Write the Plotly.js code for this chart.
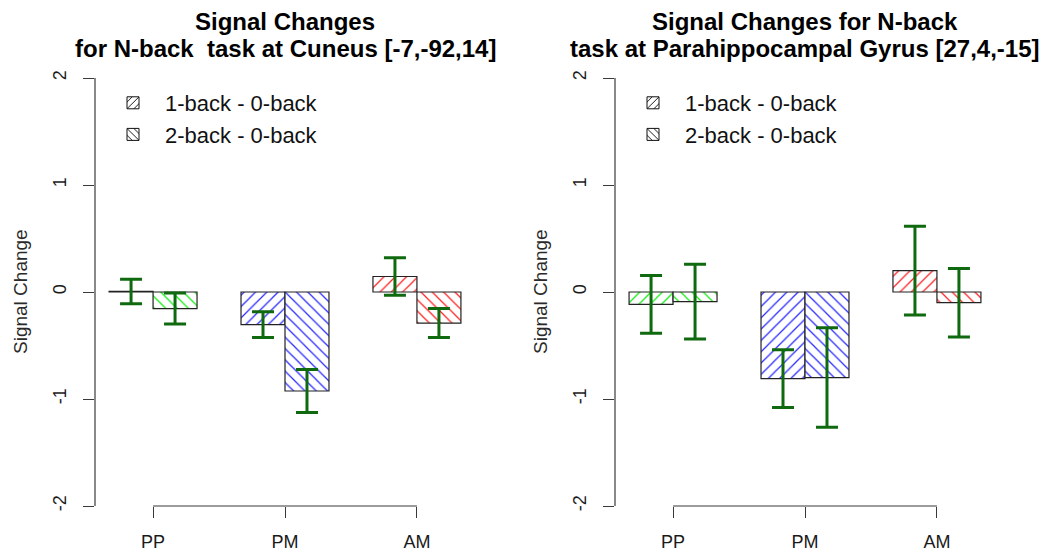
<!DOCTYPE html>
<html>
<head>
<meta charset="utf-8">
<script src="https://cdn.plot.ly/plotly-3.0.1.min.js"></script>
<style>
  html, body { margin: 0; padding: 0; background: #ffffff; }
  #chart { width: 1043px; height: 557px; }
</style>
</head>
<body>
<div id="chart"></div>
<script>
// Regions of interest along the x axis
const regions = ['PP', 'PM', 'AM'];

// Cuneus [-7,-92,14]: mean signal change and error half-widths
const cuneusOneBack = [0.005, -0.305, 0.145];
const cuneusOneBackErr = [0.115, 0.12, 0.175];
const cuneusTwoBack = [-0.155, -0.925, -0.29];
const cuneusTwoBackErr = [0.145, 0.2, 0.135];

// Parahippocampal Gyrus [27,4,-15]
const paraOneBack = [-0.115, -0.81, 0.2];
const paraOneBackErr = [0.27, 0.27, 0.415];
const paraTwoBack = [-0.09, -0.8, -0.1];
const paraTwoBackErr = [0.35, 0.465, 0.32];

// Contrast names and y-axis ticks
const contrastNames = ['1-back - 0-back', '2-back - 0-back'];
const yTickVals = [-2, -1, 0, 1, 2];
const yTickText = ['-2', '-1', '0', '1', '2'];

// Panel titles (two lines each)
const leftTitle = ['Signal Changes', 'for N-back\u00a0 task at Cuneus [-7,-92,14]'];
const rightTitle = ['Signal Changes for N-back', 'task at Parahippocampal Gyrus [27,4,-15]'];

const FONT = 'Liberation Sans, Arial, Helvetica, sans-serif';
const hatchColors = ['#11ee11', '#2a2aff', '#ff2222'];
const errColor = '#0f6a0f';
const axisColor = '#3a3a3a';

function barTrace(vals, errs, shape, xa, ya) {
  return {
    type: 'bar',
    x: regions,
    y: vals,
    xaxis: xa,
    yaxis: ya,
    showlegend: false,
    hoverinfo: 'skip',
    marker: {
      color: '#ffffff',
      line: { color: '#222222', width: 1.2 },
      pattern: {
        shape: shape,
        fgcolor: hatchColors,
        bgcolor: '#ffffff',
        fgopacity: 1,
        size: 8,
        solidity: 0.16
      }
    },
    error_y: {
      type: 'data',
      array: errs,
      visible: true,
      color: errColor,
      thickness: 3,
      width: 11
    }
  };
}

// Key entries: one empty-valued bar per contrast on a hidden axis pair,
// so they show in the legend without taking a slot in the bar groups
function legendTrace(name, shape, legendId) {
  return {
    type: 'bar',
    x: [regions[0]],
    y: [null],
    name: name,
    xaxis: 'x3',
    yaxis: 'y3',
    legend: legendId,
    showlegend: true,
    hoverinfo: 'skip',
    marker: {
      color: '#ffffff',
      line: { color: '#111111', width: 1 },
      pattern: {
        shape: shape,
        fgcolor: '#111111',
        bgcolor: '#ffffff',
        size: 6,
        solidity: 0.2
      }
    }
  };
}

const data = [
  barTrace(cuneusOneBack, cuneusOneBackErr, '/', 'x', 'y'),
  barTrace(cuneusTwoBack, cuneusTwoBackErr, '\\', 'x', 'y'),
  barTrace(paraOneBack, paraOneBackErr, '/', 'x2', 'y2'),
  barTrace(paraTwoBack, paraTwoBackErr, '\\', 'x2', 'y2'),
  legendTrace(contrastNames[0], '/', 'legend'),
  legendTrace(contrastNames[1], '\\', 'legend'),
  legendTrace(contrastNames[0], '/', 'legend2'),
  legendTrace(contrastNames[1], '\\', 'legend2')
];

const W = 1043, H = 557;
const yDomain = [(H - 506) / H, (H - 56.6) / H];

function xAxis(domain, anchor) {
  return {
    domain: domain,
    anchor: anchor,
    type: 'category',
    range: [-0.44, regions.length - 1 + 0.44],
    showgrid: false,
    zeroline: false,
    showline: false,
    ticks: 'outside',
    ticklen: 11,
    tickwidth: 1,
    tickcolor: axisColor,
    ticklabelstandoff: 8,
    tickfont: { family: FONT, size: 18, color: '#1a1a1a' },
    fixedrange: true
  };
}

function yAxis(anchor) {
  return {
    domain: yDomain,
    anchor: anchor,
    range: [yTickVals[0], 2.2],
    tickmode: 'array',
    tickvals: yTickVals,
    ticktext: yTickText,
    tickangle: -90,
    showgrid: false,
    zeroline: false,
    showline: false,
    ticks: 'outside',
    ticklen: 11,
    tickwidth: 1,
    tickcolor: axisColor,
    ticklabelstandoff: 10,
    tickfont: { family: FONT, size: 18, color: '#1a1a1a' },
    fixedrange: true
  };
}

// Axis lines span only the first to last tick, as in base-graphics axes
function axisLines(xa, ya) {
  return [
    {
      type: 'line', xref: xa + ' domain', yref: ya,
      x0: 0, x1: 0, y0: yTickVals[0], y1: yTickVals[yTickVals.length - 1],
      line: { color: axisColor, width: 1.2 }
    },
    {
      type: 'line', xref: xa, yref: ya + ' domain',
      x0: 0, x1: regions.length - 1, y0: 0, y1: 0,
      line: { color: axisColor, width: 1.2 }
    }
  ];
}

const yMid = (yTickVals[0] + yTickVals[yTickVals.length - 1]) / 2;

function titleAnnots(lines, xa) {
  const ys = [21, 48];
  return lines.map((t, i) => ({
    text: '<b>' + t + '</b>',
    xref: xa + ' domain', x: 0.5,
    yref: 'paper', y: (H - ys[i]) / H,
    xanchor: 'center', yanchor: 'middle',
    showarrow: false,
    font: { family: FONT, size: 24, color: '#000000' }
  }));
}

function yLabel(xa, ya) {
  return {
    text: 'Signal Change',
    xref: xa + ' domain', x: 0, xshift: -75,
    yref: ya, y: yMid,
    xanchor: 'center', yanchor: 'middle',
    textangle: -90,
    showarrow: false,
    font: { family: FONT, size: 19, color: '#2a2a2a' }
  };
}

function legendBox(xPx) {
  return {
    x: xPx / W, y: (H - 82) / H,
    xanchor: 'left', yanchor: 'top',
    bgcolor: 'rgba(0,0,0,0)',
    borderwidth: 0,
    itemwidth: 54,
    tracegroupgap: 0,
    font: { family: FONT, size: 22, color: '#111111' }
  };
}

const layout = {
  width: W,
  height: H,
  margin: { l: 0, r: 0, t: 0, b: 0 },
  paper_bgcolor: '#ffffff',
  plot_bgcolor: '#ffffff',
  barmode: 'group',
  bargap: 1 / 3,
  bargroupgap: 0,
  xaxis: xAxis([95 / W, 475 / W], 'y'),
  yaxis: yAxis('x'),
  xaxis2: xAxis([615 / W, 995 / W], 'y2'),
  yaxis2: yAxis('x2'),
  xaxis3: { domain: [0, 0.01], anchor: 'y3', visible: false, fixedrange: true },
  yaxis3: { domain: [0, 0.01], anchor: 'x3', visible: false, fixedrange: true },
  legend: legendBox(101),
  legend2: legendBox(621),
  shapes: axisLines('x', 'y').concat(axisLines('x2', 'y2')),
  annotations: titleAnnots(leftTitle, 'x')
    .concat(titleAnnots(rightTitle, 'x2'))
    .concat([yLabel('x', 'y'), yLabel('x2', 'y2')])
};

Plotly.newPlot('chart', data, layout, { displayModeBar: false, staticPlot: true });
</script>
</body>
</html>
